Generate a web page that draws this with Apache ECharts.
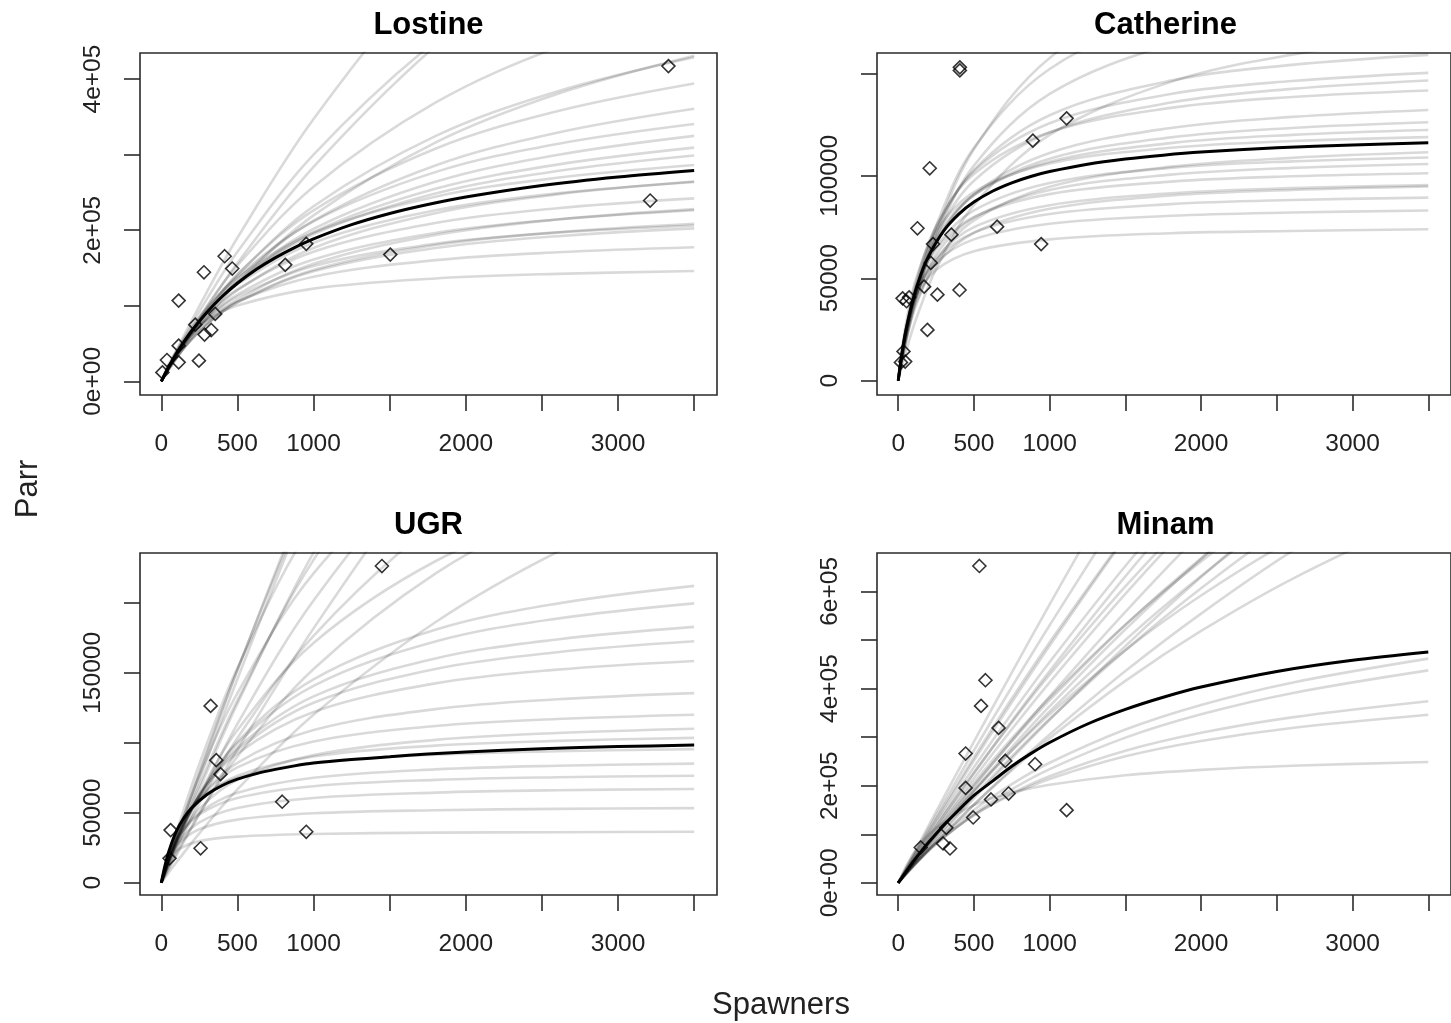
<!DOCTYPE html>
<html>
<head>
<meta charset="utf-8">
<script src="https://cdn.jsdelivr.net/npm/echarts@6/dist/echarts.min.js"></script>
<style>
html,body{margin:0;padding:0;background:#fff;}
#chart{width:1451px;height:1023px;}
</style>
</head>
<body>
<div id="chart"></div>
<script>
// ---------------- data (Parr values in thousands) ----------------
const panelTitles = ['Lostine', 'Catherine', 'UGR', 'Minam'];
const xTickValues = [0, 500, 1000, 1500, 2000, 2500, 3000, 3500];
const xLabelValues = [0, 500, 1000, 2000, 3000];

// median curve spawner grid (shared)
const medianX = [0, 25, 50, 100, 150, 200, 300, 400, 500, 625, 750, 875, 1000, 1250, 1500, 1750, 2000, 2500, 3000, 3500];

// ---- Lostine ----
const lostineCurveX = [0, 50, 150, 300, 500, 1000, 1800, 2600, 3500];
const lostineCurves = [
  [0, 23.4, 54.2, 80.7, 100.3, 122.7, 136.2, 142.3, 146.0],
  [0, 20.2, 50.5, 80.6, 105.9, 138.5, 160.4, 170.8, 177.5],
  [0, 19.3, 49.9, 82.6, 112.0, 152.7, 182.2, 196.8, 206.3],
  [0, 18.6, 49.1, 83.1, 114.9, 161.2, 196.4, 214.3, 226.4],
  [0, 19.6, 51.8, 87.8, 121.8, 171.6, 209.6, 229.1, 242.2],
  [0, 18.0, 48.6, 84.7, 120.6, 176.6, 222.6, 247.4, 264.4],
  [0, 19.0, 51.8, 91.2, 131.0, 194.9, 248.7, 278.3, 298.9],
  [0, 18.2, 50.3, 90.1, 131.8, 201.7, 264.0, 299.6, 324.9],
  [0, 17.8, 50.0, 90.8, 135.0, 212.6, 285.6, 329.0, 360.7],
  [0, 18.4, 51.7, 94.7, 141.9, 226.4, 307.9, 357.4, 394.1],
  [0, 17.5, 49.9, 92.6, 141.0, 231.7, 324.5, 383.6, 428.8],
  [0, 18.6, 53.2, 99.8, 153.5, 257.6, 368.7, 442.0, 499.5],
  [0, 19.7, 57.1, 109.1, 171.4, 300.0, 450.0, 557.1, 646.2],
  [0, 20.8, 61.1, 118.5, 190.0, 347.1, 548.6, 706.3, 847.3],
  [0, 17.3, 50.7, 98.1, 156.7, 283.8, 443.7, 566.4, 674.3],
  [0, 15.6, 44.9, 84.4, 130.2, 219.6, 316.0, 380.2, 430.8],
  [0, 21.1, 56.6, 97.4, 137.0, 196.9, 244.4, 269.4, 286.4],
  [0, 16.5, 44.2, 76.4, 107.7, 155.6, 193.8, 214.1, 227.9],
  [0, 19.1, 52.9, 94.7, 138.5, 211.8, 276.9, 314.1, 340.5],
  [0, 16.8, 44.4, 75.4, 104.7, 147.5, 180.4, 197.3, 208.6],
  [0, 20.1, 53.7, 91.9, 128.6, 183.5, 226.4, 248.8, 263.9],
  [0, 18.6, 51.0, 90.5, 131.1, 197.5, 254.8, 286.8, 309.3],
  [0, 17.2, 45.1, 75.9, 104.5, 145.6, 176.4, 192.1, 202.5]
];
const lostineMedian = [0, 10.1, 19.6, 37.1, 52.8, 67.0, 91.6, 112.3, 129.8, 148.3, 163.8, 177.1, 188.6, 207.4, 222.2, 234.1, 243.9, 259.1, 270.3, 278.9];
const lostineSpawners = [7, 37, 114, 114, 114, 247, 223, 284, 328, 354, 280, 416, 466, 814, 952, 1504, 3331, 3211];
const lostineParr = [11.9, 28.3, 25.2, 47.3, 106.9, 27.4, 75.1, 61.9, 68.0, 89.3, 144.4, 165.6, 149.3, 154.2, 182.0, 167.8, 417.2, 239.3];
const lostineYTicks = [0, 100, 200, 300, 400];
const lostineYLabels = [0, 200, 400];
const lostineYText = ['0e+00', '2e+05', '4e+05'];

// ---- Catherine ----
const catherineCurveX = [0, 25, 60, 120, 250, 500, 1000, 1800, 2600, 3500];
const catherineCurves = [
  [0, 15.0, 28.3, 41.2, 54.1, 63.2, 69.0, 72.0, 73.1, 73.9],
  [0, 14.5, 28.2, 42.5, 57.7, 69.0, 76.6, 80.5, 82.1, 83.1],
  [0, 13.8, 27.5, 42.4, 59.1, 72.3, 81.4, 86.2, 88.2, 89.4],
  [0, 13.0, 26.5, 41.9, 60.0, 75.0, 85.7, 91.5, 94.0, 95.5],
  [0, 14.1, 28.5, 44.9, 64.2, 79.9, 91.1, 97.2, 99.8, 101.3],
  [0, 12.2, 25.5, 41.5, 61.7, 79.6, 93.1, 100.6, 103.9, 105.8],
  [0, 13.3, 27.4, 44.3, 65.1, 83.1, 96.5, 103.9, 107.1, 109.0],
  [0, 12.5, 26.5, 44.3, 68.1, 90.6, 108.4, 118.8, 123.4, 126.2],
  [0, 11.5, 24.8, 42.3, 66.7, 91.0, 111.2, 123.4, 128.8, 132.2],
  [0, 13.7, 29.1, 48.9, 75.5, 100.9, 121.3, 133.2, 138.5, 141.7],
  [0, 12.7, 27.4, 47.0, 74.6, 102.3, 125.7, 140.0, 146.3, 150.3],
  [0, 11.7, 25.6, 44.7, 72.9, 102.9, 129.6, 146.5, 154.2, 159.1],
  [0, 7.2, 16.5, 30.5, 54.5, 85.7, 120.0, 145.9, 159.2, 168.0],
  [0, 9.6, 22.0, 40.5, 72.2, 113.0, 157.6, 191.0, 208.0, 219.3],
  [0, 10.0, 22.5, 40.6, 70.0, 105.0, 140.0, 164.3, 176.1, 183.8],
  [0, 11.6, 25.3, 43.6, 70.2, 97.6, 121.2, 135.8, 142.5, 146.6],
  [0, 15.4, 31.4, 50.2, 72.9, 92.1, 106.1, 113.7, 117.0, 118.9],
  [0, 10.3, 22.0, 37.2, 58.1, 78.3, 94.7, 104.5, 108.8, 111.5],
  [0, 10.7, 24.2, 43.7, 75.5, 113.7, 152.2, 179.1, 192.2, 200.7],
  [0, 13.4, 28.2, 46.3, 69.6, 90.7, 106.9, 116.0, 120.0, 122.4],
  [0, 11.5, 23.8, 38.4, 56.5, 72.2, 83.9, 90.4, 93.1, 94.8]
];
const catherineMedian = [0, 13.4, 24.1, 40.3, 52.0, 60.7, 73.1, 81.3, 87.2, 92.6, 96.6, 99.7, 102.1, 105.7, 108.2, 110.1, 111.6, 113.7, 115.1, 116.2];
const catherineSpawners = [407, 407, 1112, 889, 208, 127, 351, 230, 653, 944, 215, 171, 259, 405, 29, 72, 193, 35, 46, 18, 55];
const catherineParr = [153.0, 151.5, 128.1, 117.2, 103.7, 74.4, 71.3, 66.7, 75.2, 66.7, 57.5, 45.9, 42.0, 44.3, 40.2, 40.7, 24.8, 14.3, 9.3, 8.9, 38.8];
const catherineYTicks = [0, 50, 100, 150];
const catherineYLabels = [0, 50, 100];
const catherineYText = ['0', '50000', '100000'];

// ---- UGR ----
const ugrCurveX = [0, 25, 60, 120, 250, 500, 1000, 1800, 2600, 3500];
const ugrCurves = [
  [0, 10.7, 18.2, 24.4, 29.7, 32.9, 34.8, 35.8, 36.1, 36.4],
  [0, 10.2, 19.4, 28.7, 38.2, 45.1, 49.6, 51.8, 52.8, 53.3],
  [0, 9.7, 19.5, 30.5, 43.2, 53.4, 60.6, 64.4, 66.1, 67.0],
  [0, 10.8, 21.8, 34.3, 48.8, 60.6, 69.0, 73.5, 75.4, 76.5],
  [0, 10.0, 20.8, 33.8, 50.0, 64.3, 75.0, 81.0, 83.6, 85.1],
  [0, 11.2, 23.6, 38.8, 58.5, 76.4, 90.2, 98.0, 101.4, 103.5],
  [0, 10.4, 22.4, 38.2, 60.3, 82.4, 100.9, 112.0, 117.0, 120.1],
  [0, 9.4, 20.7, 36.4, 60.0, 85.7, 109.1, 124.1, 131.1, 135.5],
  [0, 9.0, 20.2, 36.4, 62.2, 92.4, 122.1, 142.5, 152.3, 158.5],
  [0, 8.4, 19.1, 35.1, 62.2, 96.5, 133.2, 160.3, 173.9, 182.9],
  [0, 8.0, 18.4, 34.4, 62.6, 100.9, 145.4, 180.8, 199.5, 212.2],
  [0, 7.4, 17.2, 33.0, 63.2, 109.1, 171.4, 229.8, 264.4, 289.7],
  [0, 8.6, 20.3, 39.3, 76.4, 135.5, 221.1, 307.3, 361.6, 402.7],
  [0, 7.4, 17.7, 34.7, 69.8, 130.4, 230.8, 350.6, 438.2, 512.2],
  [0, 8.2, 19.6, 38.8, 79.2, 152.4, 283.3, 458.0, 600.4, 732.2],
  [0, 6.2, 14.6, 28.6, 56.6, 103.4, 176.5, 257.1, 312.0, 355.9],
  [0, 5.4, 12.9, 25.1, 49.5, 90.2, 152.8, 221.0, 266.8, 303.1],
  [0, 3.7, 8.9, 17.5, 35.3, 66.7, 120.0, 186.2, 236.4, 280.0],
  [0, 13.0, 26.5, 41.9, 60.0, 75.0, 85.7, 91.5, 94.0, 95.5],
  [0, 8.8, 19.2, 33.0, 53.0, 73.5, 91.2, 102.1, 107.0, 110.1],
  [0, 9.4, 22.2, 43.1, 84.9, 153.5, 257.6, 368.7, 442.0, 499.5],
  [0, 8.2, 18.8, 34.9, 62.8, 99.5, 140.7, 172.4, 188.8, 199.7],
  [0, 8.6, 19.5, 35.5, 62.1, 94.7, 128.6, 152.8, 164.8, 172.6],
  [0, 8.0, 19.1, 37.9, 77.9, 151.9, 289.2, 483.2, 651.4, 815.5],
  [0, 7.0, 16.6, 32.9, 66.9, 128.0, 236.0, 377.2, 490.1, 592.7],
  [0, 6.5, 15.3, 30.2, 60.6, 113.6, 201.7, 307.9, 386.0, 452.5],
  [0, 5.0, 11.9, 23.7, 48.8, 95.2, 181.8, 305.1, 412.7, 518.5],
  [0, 7.5, 17.9, 35.7, 73.9, 145.6, 283.0, 487.4, 674.7, 867.8]
];
const ugrMedian = [0, 12.5, 22.5, 37.0, 46.5, 53.5, 63.0, 69.5, 74.0, 78.0, 81.0, 83.5, 85.5, 88.0, 90.0, 92.0, 93.5, 95.8, 97.3, 98.4];
const ugrSpawners = [1449, 324, 361, 389, 794, 952, 61, 258, 54];
const ugrParr = [226.4, 126.4, 87.6, 77.6, 57.9, 36.4, 37.6, 24.6, 17.4];
const ugrYTicks = [0, 50, 100, 150, 200];
const ugrYLabels = [0, 50, 150];
const ugrYText = ['0', '50000', '150000'];

// ---- Minam ----
const minamCurveX = [0, 100, 250, 500, 750, 1000, 1500, 2000, 2600, 3500];
const minamCurves = [
  [0, 58.8, 146.4, 290.7, 432.9, 573.1, 847.5, 1114.3, 1424.7, 1871.7],
  [0, 55.7, 138.1, 272.4, 403.1, 530.3, 774.9, 1007.2, 1271.0, 1638.8],
  [0, 51.7, 127.9, 251.8, 371.9, 488.3, 710.7, 920.4, 1156.5, 1482.7],
  [0, 49.5, 122.0, 238.1, 348.8, 454.5, 652.2, 833.3, 1031.7, 1296.3],
  [0, 47.4, 116.5, 226.4, 330.3, 428.6, 610.2, 774.2, 951.2, 1183.1],
  [0, 44.6, 110.0, 215.3, 316.2, 412.8, 594.7, 762.7, 948.1, 1197.7],
  [0, 42.4, 103.8, 200.6, 291.2, 376.1, 530.9, 668.4, 814.5, 1002.2],
  [0, 39.6, 97.6, 190.5, 279.1, 363.6, 521.7, 666.7, 825.4, 1037.0],
  [0, 37.5, 92.1, 178.7, 260.3, 337.3, 479.0, 606.4, 743.2, 921.5],
  [0, 35.7, 88.4, 173.7, 256.2, 335.8, 487.4, 629.4, 788.4, 1006.4],
  [0, 41.1, 99.8, 190.0, 272.1, 347.1, 479.1, 591.5, 706.3, 847.3],
  [0, 34.4, 83.8, 160.9, 232.0, 297.9, 415.8, 518.5, 625.4, 759.7],
  [0, 36.1, 83.7, 149.8, 203.1, 247.2, 315.6, 366.3, 412.1, 461.6],
  [0, 34.2, 79.3, 141.9, 192.4, 234.2, 299.0, 347.1, 390.5, 437.4],
  [0, 35.4, 80.3, 139.2, 184.1, 219.6, 271.9, 308.8, 340.7, 373.8],
  [0, 36.8, 82.1, 139.4, 181.6, 214.0, 260.4, 292.1, 318.9, 346.2],
  [0, 60.1, 113.1, 160.1, 185.8, 202.1, 221.5, 232.6, 241.0, 248.7],
  [0, 44.2, 107.7, 206.4, 297.4, 381.4, 531.5, 661.8, 797.0, 966.3],
  [0, 39.5, 96.8, 187.5, 272.7, 352.9, 500.0, 631.6, 772.3, 954.5],
  [0, 33.6, 82.7, 160.9, 235.0, 305.4, 435.9, 554.3, 682.8, 852.0],
  [0, 46.6, 115.2, 226.1, 332.9, 435.9, 630.9, 812.7, 1015.2, 1291.0],
  [0, 40.7, 100.8, 198.2, 292.5, 383.8, 557.8, 721.4, 905.2, 1158.0],
  [0, 53.5, 132.0, 258.4, 379.4, 495.4, 713.7, 915.3, 1137.8, 1437.3]
];
const minamMedian = [0, 11.0, 22.0, 44.0, 64.0, 83.0, 118.0, 150.0, 180.0, 210.0, 240.0, 266.0, 289.0, 327.0, 357.0, 382.0, 403.0, 435.0, 458.0, 475.0];
const minamSpawners = [536, 576, 547, 663, 445, 707, 904, 445, 729, 613, 495, 1112, 318, 296, 342, 149];
const minamParr = [652.3, 417.1, 364.2, 318.9, 266.2, 251.0, 244.2, 195.5, 183.9, 171.6, 134.6, 149.6, 113.2, 81.1, 70.8, 72.8];
const minamYTicks = [0, 100, 200, 300, 400, 500, 600];
const minamYLabels = [0, 200, 400, 600];
const minamYText = ['0e+00', '2e+05', '4e+05', '6e+05'];

// ---------------- layout ----------------
const FONT = "'Liberation Sans', Arial, Helvetica, sans-serif";
const panels = [
  {curveX: lostineCurveX, curves: lostineCurves, median: lostineMedian, s: lostineSpawners, r: lostineParr,
   yTicks: lostineYTicks, yLabels: lostineYLabels, yText: lostineYText, yMin: -18, yMax: 434.5, left: 140, top: 53},
  {curveX: catherineCurveX, curves: catherineCurves, median: catherineMedian, s: catherineSpawners, r: catherineParr,
   yTicks: catherineYTicks, yLabels: catherineYLabels, yText: catherineYText, yMin: -7, yMax: 160, left: 877, top: 53},
  {curveX: ugrCurveX, curves: ugrCurves, median: ugrMedian, s: ugrSpawners, r: ugrParr,
   yTicks: ugrYTicks, yLabels: ugrYLabels, yText: ugrYText, yMin: -8.8, yMax: 235.7, left: 140, top: 553},
  {curveX: minamCurveX, curves: minamCurves, median: minamMedian, s: minamSpawners, r: minamParr,
   yTicks: minamYTicks, yLabels: minamYLabels, yText: minamYText, yMin: -25, yMax: 679, left: 877, top: 553}
];
const GW = 577, GH = 342;

const grids = [], xAxes = [], yAxes = [], series = [], graphics = [];
panels.forEach((p, i) => {
  grids.push({left: p.left, top: p.top, width: GW, height: GH, show: true,
    borderColor: '#2b2b2b', borderWidth: 1.6, backgroundColor: 'transparent', containLabel: false});
  xAxes.push({type: 'value', gridIndex: i, min: -140, max: 3650, position: 'bottom',
    axisLine: {show: false, onZero: false}, splitLine: {show: false},
    axisTick: {show: true, customValues: xTickValues, length: 16, lineStyle: {color: '#2b2b2b', width: 1.6}},
    axisLabel: {show: true, customValues: xLabelValues, margin: 37, fontSize: 24.5, color: '#222', fontFamily: FONT,
      formatter: v => String(v)}});
  const lab = {};
  p.yLabels.forEach((v, k) => { lab[v] = p.yText[k]; });
  yAxes.push({type: 'value', gridIndex: i, min: p.yMin, max: p.yMax, position: 'left',
    axisLine: {show: false, onZero: false}, splitLine: {show: false},
    axisTick: {show: true, customValues: p.yTicks, length: 16, lineStyle: {color: '#2b2b2b', width: 1.6}},
    axisLabel: {show: true, customValues: p.yLabels, rotate: 90, margin: 34, fontSize: 24.5, color: '#222', fontFamily: FONT,
      formatter: v => (lab[v] !== undefined ? lab[v] : '')}});
  p.curves.forEach(c => {
    series.push({type: 'line', xAxisIndex: i, yAxisIndex: i, silent: true, showSymbol: false, smooth: 0.35,
      data: p.curveX.map((x, k) => [x, c[k]]), lineStyle: {color: 'rgba(0,0,0,0.15)', width: 2.6}, z: 2});
  });
  series.push({type: 'line', xAxisIndex: i, yAxisIndex: i, silent: true, showSymbol: false, smooth: 0.3,
    data: medianX.map((x, k) => [x, p.median[k]]), lineStyle: {color: '#000', width: 3}, z: 3});
  series.push({type: 'scatter', xAxisIndex: i, yAxisIndex: i, silent: true, symbol: 'diamond', symbolSize: 13,
    data: p.s.map((s, k) => [s, p.r[k]]),
    itemStyle: {color: 'rgba(0,0,0,0)', borderColor: '#000', borderWidth: 1.6}, z: 4});
  graphics.push({type: 'text', x: p.left + GW / 2, y: p.top - 28,
    style: {text: panelTitles[i], font: 'bold 31px ' + FONT, fill: '#000',
      textAlign: 'center', textVerticalAlign: 'middle', align: 'center', verticalAlign: 'middle'}});
});
graphics.push({type: 'text', x: 781, y: 1005,
  style: {text: 'Spawners', font: '31px ' + FONT, fill: '#222',
    textAlign: 'center', textVerticalAlign: 'middle', align: 'center', verticalAlign: 'middle'}});
graphics.push({type: 'text', x: 28, y: 489, rotation: Math.PI / 2,
  style: {text: 'Parr', font: '31px ' + FONT, fill: '#222',
    textAlign: 'center', textVerticalAlign: 'middle', align: 'center', verticalAlign: 'middle'}});

const chart = echarts.init(document.getElementById('chart'), null, {renderer: 'canvas'});
chart.setOption({
  animation: false,
  backgroundColor: '#fff',
  grid: grids, xAxis: xAxes, yAxis: yAxes, series: series, graphic: graphics
});
</script>
</body>
</html>
